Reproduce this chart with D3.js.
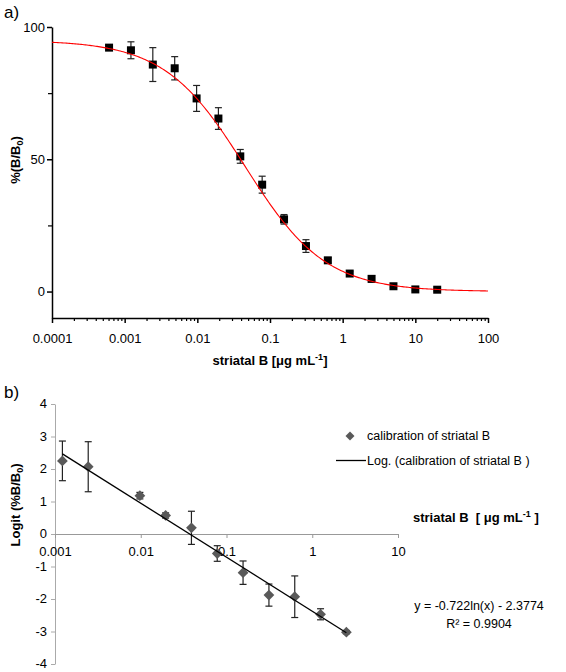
<!DOCTYPE html>
<html><head>
<meta charset="utf-8">
<script src="https://d3js.org/d3.v7.min.js"></script>
<style>
  body { margin: 0; background: #fff; }
  svg text { font-family: "Liberation Sans", Arial, Helvetica, sans-serif; }
  .axis text { fill: #000; }
</style>
</head>
<body>
<svg id="chart" width="566" height="672"></svg>
<script>

// ---- data for panel a) ----
const concA = [0.00061, 0.00122, 0.00244, 0.00488, 0.00977, 0.0195, 0.039, 0.078,
               0.156, 0.3125, 0.625, 1.25, 2.5, 5, 10, 20];
const pctA  = [92.2, 91.2, 85.8, 84.4, 73.0, 65.4, 51.1, 40.4, 27.3, 17.2, 11.8, 6.8, 4.8, 2.0, 0.8, 0.7];
const errA  = [0.8, 3.2, 6.4, 4.4, 4.9, 4.1, 2.6, 3.2, 1.8, 2.4, 1.0, 0.8, 1.2, 0.5, 0.5, 0.5];
// 4-parameter logistic fit shown in red
const fitTop = 95, fitBottom = 0, fitIC50 = 0.045, fitHill = 0.786;

const xTicksA = [0.0001, 0.001, 0.01, 0.1, 1, 10, 100];
const xLabelsA = ["0.0001", "0.001", "0.01", "0.1", "1", "10", "100"];
const yTicksA = [0, 50, 100];
const yMinorA = [25, 75];

// ---- data for panel b) ----
const concB  = [0.00122, 0.00244, 0.00977, 0.0195, 0.039, 0.078, 0.156, 0.3125, 0.625, 1.25, 2.5];
const logitB = [2.25, 2.07, 1.18, 0.57, 0.19, -0.6, -1.19, -1.88, -1.93, -2.47, -3.02];
const errB   = [0.61, 0.77, 0.1, 0.08, 0.51, 0.24, 0.36, 0.34, 0.64, 0.17, 0.05];
// logarithmic trend line: y = slope*ln(x) + intercept
const trendSlope = -0.722, trendIntercept = -2.3774;

const xTicksB = [0.001, 0.01, 0.1, 1, 10];
const xLabelsB = ["0.001", "0.01", "0.1", "1", "10"];
const yTicksB = [-4, -3, -2, -1, 0, 1, 2, 3, 4];


const svg = d3.select("svg#chart");

// =========== panel a) ===========
const xA = d3.scaleLog().domain([0.0001, 100]).range([52, 488]);
const yA = d3.scaleLinear().domain([-10, 100]).range([318, 27]);

let gA = svg.append("g").attr("id", "panelA");

// minor ticks (2..9 in every decade)
let minorX = [];
xTicksA.slice(0, -1).forEach(d => { for (let k = 2; k <= 9; k++) minorX.push(d * k); });

gA.append("g")
  .attr("class", "axis")
  .attr("transform", "translate(0,318)")
  .call(d3.axisBottom(xA).tickValues(minorX).tickSize(3).tickFormat("").tickSizeOuter(0))
  .call(g => g.select(".domain").remove())
  .selectAll("line").attr("stroke", "#000").attr("stroke-width", 1.2);

gA.append("g")
  .attr("class", "axis")
  .attr("transform", "translate(0,318)")
  .call(d3.axisBottom(xA).tickValues(xTicksA).tickSize(5).tickPadding(11).tickSizeOuter(0)
        .tickFormat((d, i) => xLabelsA[i]))
  .call(g => g.selectAll("text").attr("font-size", 13).attr("font-family", null))
  .call(g => g.select(".domain").attr("stroke-width", 1.5))
  .selectAll("line").attr("stroke-width", 1.5);

gA.append("g")
  .attr("class", "axis")
  .attr("transform", "translate(52,0)")
  .call(d3.axisLeft(yA).tickValues(yMinorA).tickSize(4).tickFormat(""))
  .call(g => g.select(".domain").remove())
  .selectAll("line").attr("stroke-width", 1.2);

gA.append("g")
  .attr("class", "axis")
  .attr("transform", "translate(52,0)")
  .call(d3.axisLeft(yA).tickValues(yTicksA).tickSize(5).tickPadding(2).tickSizeOuter(0))
  .call(g => g.selectAll("text").attr("font-size", 13).attr("font-family", null))
  .call(g => g.select(".domain").attr("stroke-width", 1.5))
  .selectAll("line").attr("stroke-width", 1.5);

// error bars
concA.forEach((c, i) => {
  let x = xA(c), y1 = yA(pctA[i] + errA[i]), y2 = yA(pctA[i] - errA[i]);
  let eb = gA.append("g").attr("stroke", "#222").attr("stroke-width", 1.2);
  eb.append("line").attr("x1", x).attr("x2", x).attr("y1", y1).attr("y2", y2);
  eb.append("line").attr("x1", x - 3.5).attr("x2", x + 3.5).attr("y1", y1).attr("y2", y1);
  eb.append("line").attr("x1", x - 3.5).attr("x2", x + 3.5).attr("y1", y2).attr("y2", y2);
});

// squares
gA.selectAll("rect.pt").data(concA).join("rect")
  .attr("class", "pt")
  .attr("x", d => xA(d) - 4)
  .attr("y", (d, i) => yA(pctA[i]) - 4)
  .attr("width", 8).attr("height", 8)
  .attr("fill", "#000");

// fitted curve
const fitX = d3.range(0, 301).map(i => Math.pow(10, -4 + i * 6 / 300));
const fitLine = d3.line()
  .x(d => xA(d))
  .y(d => yA(fitBottom + (fitTop - fitBottom) / (1 + Math.pow(d / fitIC50, fitHill))));
gA.append("path").datum(fitX)
  .attr("d", fitLine)
  .attr("fill", "none").attr("stroke", "#ff0000").attr("stroke-width", 1.1);

// labels
svg.append("text").attr("x", 4).attr("y", 18).attr("font-size", 17).text("a)");

let xtA = svg.append("text").attr("x", 270).attr("y", 365)
  .attr("text-anchor", "middle").attr("font-size", 13).attr("font-weight", "bold");
xtA.append("tspan").text("striatal B [μg mL");
xtA.append("tspan").attr("dy", -5).attr("font-size", 9).text("-1");
xtA.append("tspan").attr("dy", 5).text("]");

let ytA = svg.append("text").attr("transform", "translate(20,160) rotate(-90)")
  .attr("text-anchor", "middle").attr("font-size", 13).attr("font-weight", "bold");
ytA.append("tspan").text("%(B/B");
ytA.append("tspan").attr("dy", 3).attr("font-size", 9).text("0");
ytA.append("tspan").attr("dy", -3).text(")");


// =========== panel b) ===========
const xB = d3.scaleLog().domain([0.001, 10]).range([55, 398]);
const yB = d3.scaleLinear().domain([-4, 4]).range([664, 404]);

let gB = svg.append("g").attr("id", "panelB");

gB.append("g")
  .attr("class", "axis")
  .attr("transform", "translate(55,0)")
  .call(d3.axisLeft(yB).tickValues(yTicksB).tickSize(4).tickPadding(4).tickSizeOuter(0)
        .tickFormat(d => String(d)))
  .call(g => g.selectAll("text").attr("font-size", 13).attr("font-family", null).attr("dy", "0.3em"))
  .call(g => g.selectAll("line").attr("stroke", "#aaa"))
  .call(g => g.select(".domain").attr("stroke", "#aaa"));

gB.append("g")
  .attr("class", "axis")
  .attr("transform", "translate(0," + yB(0) + ")")
  .call(d3.axisBottom(xB).tickValues(xTicksB).tickSize(4).tickPadding(9).tickSizeOuter(0)
        .tickFormat((d, i) => xLabelsB[i]))
  .call(g => g.selectAll("text").attr("font-size", 13).attr("font-family", null))
  .call(g => g.selectAll("line").attr("stroke", "#999"))
  .call(g => g.select(".domain").attr("stroke", "#999"));

// error bars
concB.forEach((c, i) => {
  let x = xB(c), y1 = yB(logitB[i] + errB[i]), y2 = yB(logitB[i] - errB[i]);
  let eb = gB.append("g").attr("stroke", "#222").attr("stroke-width", 1.2);
  eb.append("line").attr("x1", x).attr("x2", x).attr("y1", y1).attr("y2", y2);
  eb.append("line").attr("x1", x - 3.5).attr("x2", x + 3.5).attr("y1", y1).attr("y2", y1);
  eb.append("line").attr("x1", x - 3.5).attr("x2", x + 3.5).attr("y1", y2).attr("y2", y2);
});

// diamonds
const diamond = d3.symbol().type(d3.symbolSquare).size(58);
gB.selectAll("path.pt").data(concB).join("path")
  .attr("class", "pt")
  .attr("d", diamond)
  .attr("transform", (d, i) => "translate(" + xB(d) + "," + yB(logitB[i]) + ") rotate(45)")
  .attr("fill", "#595959");

// trend line
const trendX = d3.extent(concB);
gB.append("path").datum(trendX)
  .attr("d", d3.line().x(d => xB(d)).y(d => yB(trendSlope * Math.log(d) + trendIntercept)))
  .attr("fill", "none").attr("stroke", "#000").attr("stroke-width", 1.3);

// legend
svg.append("path").attr("d", d3.symbol().type(d3.symbolSquare).size(40))
  .attr("transform", "translate(350,436) rotate(45)").attr("fill", "#595959");
svg.append("text").attr("x", 367).attr("y", 440).attr("font-size", 12.5)
  .text("calibration of striatal B");
svg.append("line").attr("x1", 336).attr("x2", 366).attr("y1", 460.5).attr("y2", 460.5)
  .attr("stroke", "#000").attr("stroke-width", 1.3);
svg.append("text").attr("x", 367).attr("y", 465).attr("font-size", 12.5)
  .text("Log. (calibration of striatal B )");

// equation
svg.append("text").attr("x", 479).attr("y", 610).attr("text-anchor", "middle").attr("font-size", 12.5)
  .text("y = -0.722ln(x) - 2.3774");
svg.append("text").attr("x", 479).attr("y", 628).attr("text-anchor", "middle").attr("font-size", 12.5)
  .text("R² = 0.9904");

// labels
svg.append("text").attr("x", 4).attr("y", 398).attr("font-size", 17).text("b)");

let xtB = svg.append("text").attr("x", 413).attr("y", 522)
  .attr("font-size", 13).attr("font-weight", "bold").style("white-space", "pre");
xtB.append("tspan").text("striatal B  [ μg mL");
xtB.append("tspan").attr("dy", -5).attr("font-size", 9).text("-1");
xtB.append("tspan").attr("dy", 5).text(" ]");

let ytB = svg.append("text").attr("transform", "translate(20,505) rotate(-90)")
  .attr("text-anchor", "middle").attr("font-size", 13).attr("font-weight", "bold");
ytB.append("tspan").text("Logit (%B/B");
ytB.append("tspan").attr("dy", 3).attr("font-size", 9).text("0");
ytB.append("tspan").attr("dy", -3).text(")");

</script>
</body>
</html>
